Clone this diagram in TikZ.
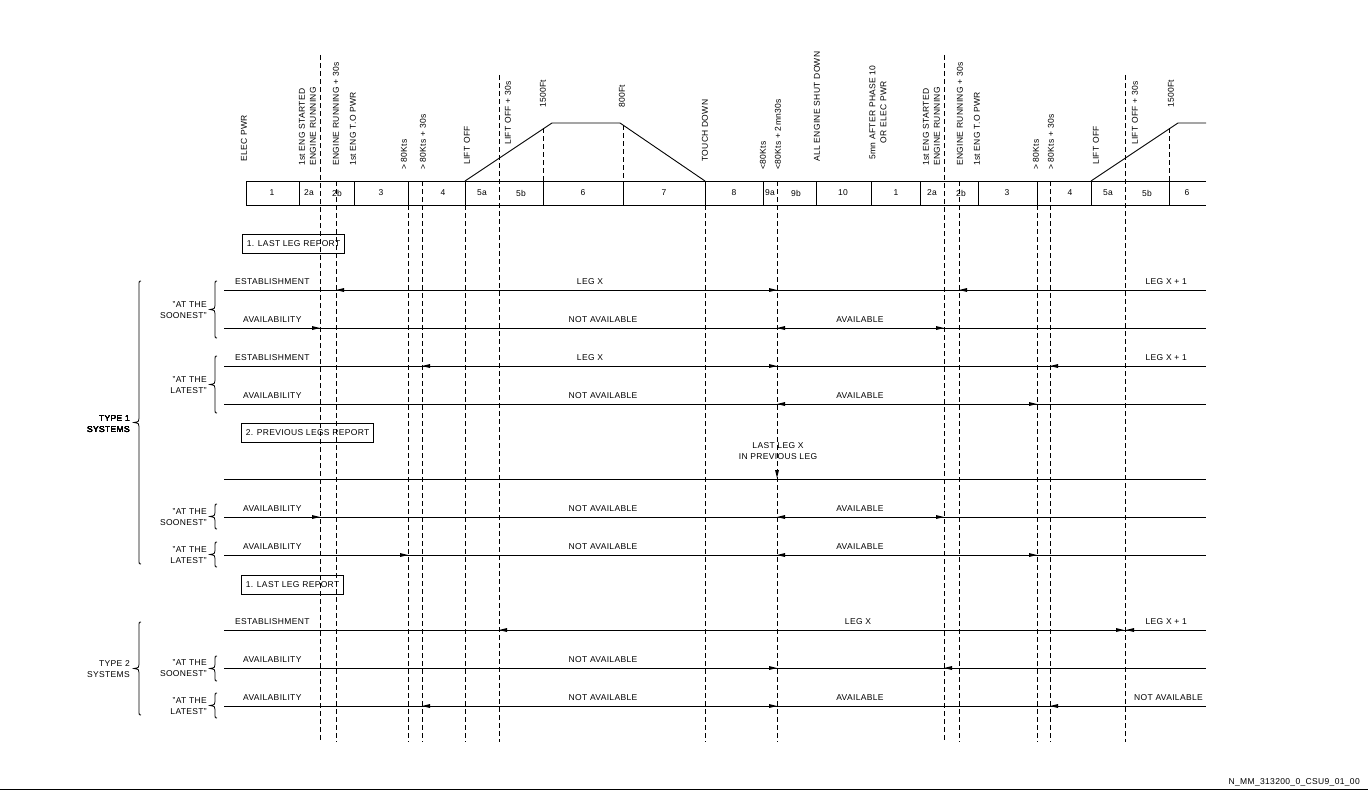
\documentclass[tikz,border=0pt]{standalone}
\usepackage{fontspec}
\setmainfont{Liberation Sans}[LetterSpace=4.0]
% small filled arrow tips pointing at a time mark
\newcommand{\tipleft}[2]{\fill (#1,#2) -- ++(8,-2) -- ++(0,4) -- cycle;}
\newcommand{\tipright}[2]{\fill (#1,#2) -- ++(-8,-2) -- ++(0,4) -- cycle;}
\newcommand{\tipdown}[2]{\fill (#1,#2) -- ++(-2,-8) -- ++(4,0) -- cycle;}
% side brace: x of stem, top, bottom
\newcommand{\sidecurl}[3]{%
  \draw [line width=0.8pt] ({#1+2},#2) .. controls (#1,#2) .. (#1,{#2+3})
    -- (#1,{(#2+#3)/2-4}) .. controls (#1,{(#2+#3)/2-1}) .. ({#1-5},{(#2+#3)/2})
    .. controls (#1,{(#2+#3)/2+1}) .. (#1,{(#2+#3)/2+4})
    -- (#1,{#3-3}) .. controls (#1,#3) .. ({#1+2},#3);}
\begin{document}
\begin{tikzpicture}[x=1pt,y=-1pt,
    every node/.style={inner sep=0pt,font=\fontsize{8.5}{11}\selectfont},
    barline/.style={line width=0.9pt},
    rowline/.style={line width=1pt},
    markline/.style={line width=0.9pt,dash pattern=on 5pt off 3pt},
    toplabel/.style={rotate=90,anchor=west},
    sidelabel/.style={anchor=east,align=right},
    reportbox/.style={draw,line width=0.8pt,anchor=west,inner xsep=4.5pt,minimum height=19pt}]
\useasboundingbox (0,0) rectangle (1368,792);

% Drawing the phase bar
\draw [barline] (1206,181) -- (246,181) -- (246,205) -- (1206,205);
\foreach \x in {299,354,408,465,543,623,705,763,816,871,920,978,1037,1091,1169}
  \draw [barline] (\x,181) -- (\x,205);
\foreach \x/\n [count=\i] in {272/1,309/2a,337/2b,381/3,443/4,482/5a,521/5b,583/6,664/7,
    734/8,770/9a,796/9b,843/10,896/1,932/2a,961/2b,1007/3,1070/4,1108/5a,1147/5b,1187/6}
  \node (ph\i) at (\x,193) {\n};

% Drawing flight profile
\draw [barline] (465,181) -- (552,123) -- (620,123) -- (705,181);
\draw [barline] (1091,181) -- (1178,123) -- (1206,123);

% Drawing time marks
\foreach \x/\a/\b in {320/55/742,336/181/742,408/205/742,422/181/742,465/205/742,
    499/75/742,543/128/181,623/125/181,705/205/742,777/181/742,944/55/742,959/181/742,
    1037/205/742,1050/181/742,1125/75/742,1169/128/181}
  \draw [markline] (\x,\a) -- (\x,\b);

% Marking events
\foreach \x/\y/\t [count=\i] in {244/162/ELEC PWR,336/166/ENGINE RUNNING + 30s,
    353/166/1st ENG T.O PWR,404/170/> 80Kts,423/170/> 80Kts + 30s,467/165/LIFT OFF,
    508/145/LIFT OFF + 30s,543/108/1500Ft,622/108/800Ft,705/162/TOUCH DOWN,
    763/170/<80Kts,778/170/<80Kts + 2mn30s,817/162/ALL ENGINE SHUT DOWN,
    960/166/ENGINE RUNNING + 30s,977/166/1st ENG T.O PWR,1036/170/> 80Kts,
    1051/170/> 80Kts + 30s,1096/165/LIFT OFF,1135/145/LIFT OFF + 30s,1171/108/1500Ft}
  \node [toplabel] (ev\i) at (\x,\y) {\t};
\node [toplabel,align=left] (evstartA) at (307.5,166) {1st ENG STARTED\\ENGINE RUNNING};
\node [toplabel,align=left] (evstartB) at (931.5,166) {1st ENG STARTED\\ENGINE RUNNING};
\node [toplabel,align=center] (evafter) at (878,160) {5mn AFTER PHASE 10\\OR ELEC PWR};

% Drawing report boxes
\node [reportbox] (lastA) at (242,244) {1. LAST LEG REPORT};
\node [reportbox] (prev) at (241,433) {2. PREVIOUS LEGS REPORT};
\node [reportbox] (lastB) at (241,584.5) {1. LAST LEG REPORT};

% Drawing rows
\foreach \y in {290,328,366,404,479,517,555,630,668,706}
  \draw [rowline] (224,\y) -- (1206,\y);
\foreach \y [count=\i] in {290,366,630}
  \node [anchor=west] (est\i) at (235,\y-8.5) {ESTABLISHMENT};
\foreach \y [count=\i] in {328,404,517,555,668,706}
  \node [anchor=west] (avl\i) at (243,\y-8.5) {AVAILABILITY};

% Marking row states
\node (legA) at (590,281.5) {LEG X};
\node [anchor=east] (nextA) at (1187,281.5) {LEG X + 1};
\node (legB) at (590,357.5) {LEG X};
\node [anchor=east] (nextB) at (1187,357.5) {LEG X + 1};
\node (legC) at (858,621.5) {LEG X};
\node [anchor=east] (nextC) at (1187,621.5) {LEG X + 1};
\foreach \y [count=\i] in {328,404,517,555,668,706}
  \node (nav\i) at (603,\y-8.5) {NOT AVAILABLE};
\foreach \y [count=\i] in {328,404,517,555,706}
  \node (av\i) at (860,\y-8.5) {AVAILABLE};
\node [anchor=east] (navend) at (1203,697.5) {NOT AVAILABLE};
\node [align=center] (lastx) at (778,451.5) {LAST LEG X\\IN PREVIOUS LEG};

% Marking arrow tips
\tipleft{336}{290} \tipright{777}{290} \tipleft{959}{290}
\tipright{320}{328} \tipleft{777}{328} \tipright{944}{328}
\tipleft{422}{366} \tipright{777}{366} \tipleft{1050}{366}
\tipleft{777}{404} \tipright{1037}{404}
\tipdown{777}{478}
\tipright{320}{517} \tipleft{777}{517} \tipright{944}{517}
\tipright{408}{555} \tipleft{777}{555} \tipright{1037}{555}
\tipleft{499}{630} \tipright{1124}{630} \tipleft{1126}{630}
\tipright{777}{668} \tipleft{944}{668}
\tipleft{422}{706} \tipright{777}{706} \tipleft{1050}{706}

% Drawing braces
\sidecurl{139}{281}{564}
\sidecurl{139}{622}{715}
\foreach \a/\b in {281/338,356/413,504/529,542/567,656/681,693/718}
  \sidecurl{215}{\a}{\b}
\node [sidelabel] (type1) at (130,424) {TYPE 1\\SYSTEMS};
\node [sidelabel] (type2) at (130,669) {TYPE 2\\SYSTEMS};
\foreach \y/\t [count=\i] in {310/SOONEST,385/LATEST,517/SOONEST,555/LATEST,668/SOONEST,706/LATEST}
  \node [sidelabel] (when\i) at (207,\y) {"AT THE\\\t"};

% Drawing footer
\draw [line width=0.8pt] (0,789) -- (1368,789);
\node [anchor=east] (ref) at (1360,782) {N\_MM\_313200\_0\_CSU9\_01\_00};
\end{tikzpicture}
\end{document}
